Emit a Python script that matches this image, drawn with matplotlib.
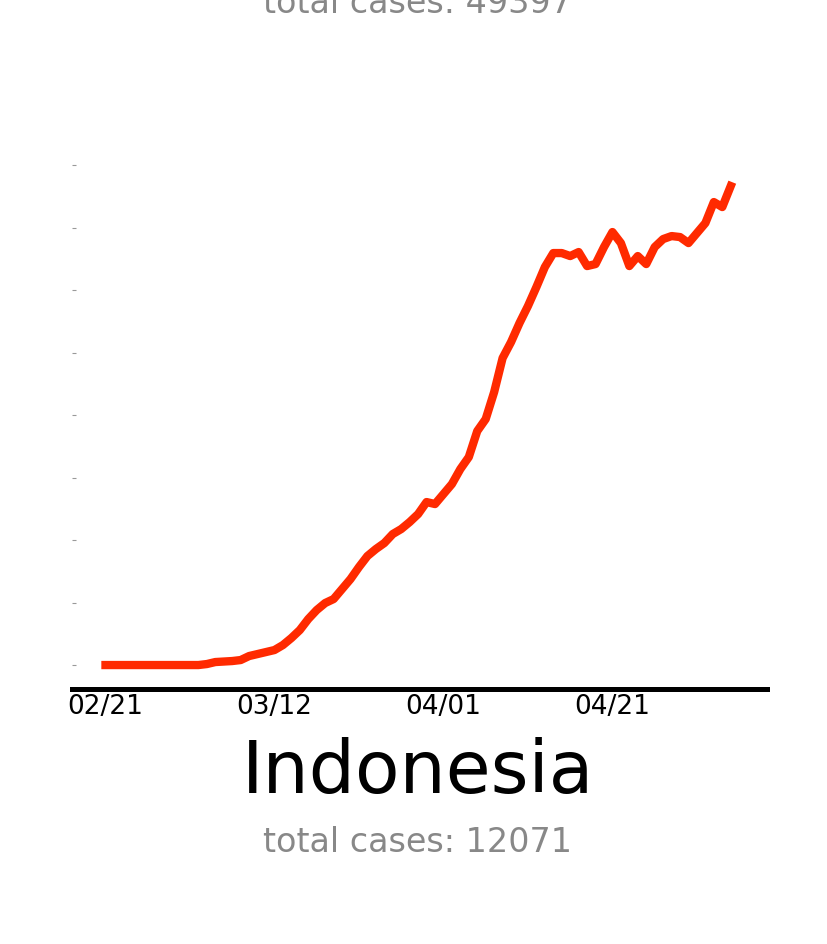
import pandas as pd
import matplotlib
matplotlib.use("Agg")
import matplotlib.pyplot as plt
import matplotlib.dates as mdates

###############################################################################
# 0. Data: smoothed daily new cases, one value per day starting 2020-02-21
###############################################################################
country = "Indonesia"
total_cases = 12071
prev_total_cases = 49397   # caption of the panel above (cut off at the top)

start_date = "2020-02-21"
daily_cases = [
    0, 0, 0, 0, 0, 0, 0, 0, 0, 0,
    0, 0, 0.8, 2.4, 2.8, 3.2, 4.0, 7.2, 8.8, 10.4,
    12.0, 16.0, 21.6, 28.0, 36.8, 44.0, 49.6, 52.8, 60.8, 68.8,
    78.4, 87.2, 92.8, 97.6, 104.8, 108.8, 114.4, 120.8, 130.4, 128.8,
    136.8, 144.8, 156.8, 166.4, 187.2, 196.8, 218.4, 245.6, 258.4, 273.6,
    287.2, 302.4, 318.4, 329.6, 329.6, 327.2, 330.4, 319.2, 320.8, 334.4,
    346.4, 337.6, 319.2, 327.2, 320.8, 334.4, 340.8, 343.2, 342.4, 337.6,
    345.6, 353.6, 370.4, 366.4, 383.2,
]
tick_dates = ["2020-02-21", "2020-03-12", "2020-04-01", "2020-04-21"]
ytick_values = [0, 50, 100, 150, 200, 250, 300, 350, 400]

dates = pd.date_range(start_date, periods=len(daily_cases), freq="D")

###############################################################################
# 1. Figure
###############################################################################
fig = plt.figure(figsize=(8.28, 9.45), dpi=100)
ax = fig.add_axes([0.087, 0.2698, 0.8394, 0.5714])

ax.plot(dates, daily_cases, color="#ff2a00", linewidth=6.0,
        solid_capstyle="projecting", solid_joinstyle="round")

# axis limits (a bit of room on both sides)
ax.set_xlim(pd.Timestamp(start_date) - pd.Timedelta(days=3.96),
            pd.Timestamp(start_date) + pd.Timedelta(days=78.3))
ax.set_ylim(-19.2, 412.8)

# only the bottom spine is kept
for side in ["top", "right", "left"]:
    ax.spines[side].set_visible(False)
ax.spines["bottom"].set_linewidth(3.6)
ax.spines["bottom"].set_color("black")

ax.set_xticks(pd.to_datetime(tick_dates))
ax.xaxis.set_major_formatter(mdates.DateFormatter("%m/%d"))
ax.tick_params(axis="x", length=0, pad=3, labelsize=19)

ax.set_yticks(ytick_values)
ax.set_yticklabels([])
ax.tick_params(axis="y", direction="in", length=3, width=0.8, color="#999999")

###############################################################################
# 2. Captions
###############################################################################
fig.text(0.5048, 0.1608, country, fontsize=52.5, color="black",
         ha="center", va="baseline")
fig.text(0.504, 0.0984, f"total cases: {total_cases}", fontsize=24,
         color="#888888", ha="center", va="baseline")
fig.text(0.504, 0.9862, f"total cases: {prev_total_cases}", fontsize=24,
         color="#888888", ha="center", va="baseline")

fig.savefig("out.png", dpi=100, facecolor="white")
